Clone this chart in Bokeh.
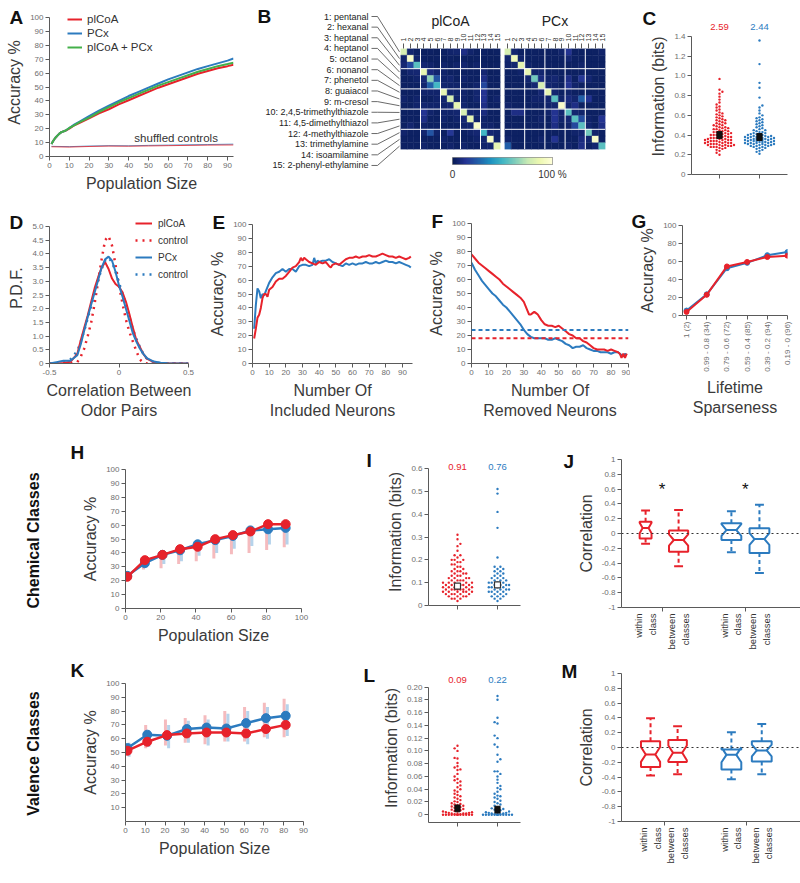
import math
import numpy as np
from bokeh.plotting import figure
from bokeh.layouts import row, column
from bokeh.models import (Range1d, FixedTicker, Legend, LegendItem, Span,
                          ColumnDataSource, LinearColorMapper)
from bokeh.transform import linear_cmap
from bokeh.embed import file_html
from bokeh.resources import INLINE
from bokeh.core.properties import value

FONT = "Liberation Sans"
RED = "#e7222b"; BLUE = "#2c7bbf"; GREEN = "#44b04a"
LRED = "#f19ea2"; LBLUE = "#97c1e3"
AXC = "#5a5a5a"; TKC = "#6e6e6e"; LBC = "#3a3a3a"
VERT = math.pi / 2

# ---------------- data ----------------
A_x = [1, 2, 3, 4, 5, 6, 8, 10, 12, 15, 20, 25, 30, 35, 40, 45, 50, 55, 60, 65, 70, 75, 80, 85, 90, 93]
A_plcoa = [9, 11.5, 13.5, 15, 16.5, 17.5, 18.5, 20, 22, 24, 27.5, 31, 34, 37.5, 40.5, 43.5, 46.5, 49.5, 52, 54.5, 57, 59.5, 61.5, 63.5, 65, 66]
A_pcx = [9, 11.5, 13.5, 15, 16.5, 17.5, 18.5, 20.5, 22.5, 25, 29, 33, 36.5, 40, 43.5, 46.5, 49.5, 52.5, 55.5, 58, 60.5, 63, 65, 67, 69, 70.5]
A_both = [9, 11.5, 13.5, 15, 16.5, 17.5, 18.5, 20.5, 22, 24.5, 28, 32, 35.5, 39, 42, 45, 48, 51, 53.5, 56, 58.5, 61, 63, 65, 66.5, 67.5]
A_shuf_x = [1, 10, 20, 30, 40, 50, 60, 70, 80, 93]
A_shuf_plcoa = [7, 6.8, 7.2, 7.5, 7.4, 7.6, 7.8, 8.0, 8.2, 8.3]
A_shuf_pcx = [7.3, 7.1, 7.5, 7.8, 7.7, 8.0, 8.2, 8.4, 8.6, 8.9]

B_odors = ["1: pentanal", "2: hexanal", "3: heptanal", "4: heptanol", "5: octanol", "6: nonanol",
           "7: phenetol", "8: guaiacol", "9: m-cresol", "10: 2,4,5-trimethylthiazole",
           "11: 4,5-dimethylthiazol", "12: 4-methylthiazole", "13: trimethylamine",
           "14: isoamilamine", "15: 2-phenyl-ethylamine"]
B_plcoa = [
    [80, 5, 3, 2, 3, 2, 3, 4, 5, 10, 4, 3, 3, 2, 3],
    [4, 95, 4, 3, 2, 3, 2, 3, 2, 3, 2, 3, 2, 2, 2],
    [6, 18, 55, 6, 4, 3, 4, 3, 4, 5, 3, 4, 3, 2, 3],
    [3, 5, 6, 85, 8, 5, 4, 3, 3, 3, 3, 3, 6, 2, 3],
    [3, 3, 4, 7, 65, 22, 4, 5, 3, 4, 3, 3, 10, 3, 3],
    [3, 3, 3, 5, 25, 50, 5, 4, 4, 3, 3, 4, 18, 3, 3],
    [3, 3, 3, 4, 4, 4, 85, 5, 4, 4, 3, 5, 12, 3, 3],
    [4, 3, 4, 3, 3, 4, 5, 80, 4, 4, 3, 5, 12, 3, 4],
    [3, 3, 4, 5, 4, 4, 4, 6, 85, 5, 3, 3, 10, 3, 3],
    [3, 3, 3, 12, 4, 3, 4, 4, 5, 80, 5, 4, 8, 3, 3],
    [3, 3, 3, 10, 3, 3, 4, 3, 4, 6, 85, 4, 4, 3, 3],
    [3, 5, 3, 4, 3, 3, 3, 3, 3, 4, 5, 95, 4, 4, 3],
    [4, 3, 3, 5, 22, 4, 3, 14, 3, 3, 4, 6, 50, 6, 4],
    [3, 3, 3, 3, 3, 3, 4, 3, 3, 3, 3, 4, 5, 95, 4],
    [3, 3, 3, 4, 3, 3, 3, 4, 3, 4, 3, 3, 4, 5, 85]]
B_pcx = [
    [80, 5, 3, 3, 3, 3, 3, 3, 4, 12, 3, 3, 3, 3, 4],
    [5, 90, 4, 3, 3, 3, 3, 3, 3, 6, 3, 3, 3, 3, 3],
    [4, 5, 85, 4, 3, 3, 3, 3, 3, 3, 3, 4, 3, 3, 3],
    [3, 3, 4, 85, 4, 5, 3, 3, 3, 3, 3, 3, 3, 3, 3],
    [3, 3, 3, 5, 60, 8, 4, 6, 3, 10, 3, 14, 6, 3, 3],
    [3, 3, 3, 3, 6, 80, 5, 4, 3, 12, 4, 3, 3, 3, 3],
    [3, 3, 3, 3, 3, 6, 85, 5, 3, 4, 3, 3, 3, 3, 3],
    [3, 3, 3, 3, 4, 4, 5, 55, 4, 8, 5, 25, 12, 3, 3],
    [4, 3, 3, 3, 3, 3, 4, 5, 95, 5, 10, 3, 3, 3, 3],
    [3, 10, 10, 3, 3, 3, 4, 12, 5, 55, 5, 4, 3, 3, 3],
    [3, 3, 3, 3, 3, 4, 3, 12, 4, 6, 55, 20, 4, 3, 12],
    [3, 3, 3, 3, 3, 3, 3, 10, 3, 4, 18, 55, 5, 3, 10],
    [3, 3, 3, 3, 3, 3, 3, 3, 3, 3, 4, 5, 60, 4, 3],
    [4, 3, 3, 3, 3, 4, 3, 12, 3, 3, 3, 8, 5, 95, 3],
    [25, 3, 3, 3, 3, 3, 3, 3, 3, 4, 3, 10, 3, 5, 55]]

C_plcoa = [0.20, 0.22, 0.24, 0.25, 0.26, 0.27, 0.27, 0.28, 0.28, 0.28, 0.29, 0.29, 0.29, 0.30, 0.30, 0.30, 0.30,
           0.31, 0.31, 0.31, 0.32, 0.32, 0.32, 0.32, 0.33, 0.33, 0.33, 0.34, 0.34, 0.34, 0.35, 0.35, 0.35, 0.35,
           0.36, 0.36, 0.36, 0.37, 0.37, 0.37, 0.38, 0.38, 0.38, 0.39, 0.39, 0.40, 0.40, 0.40, 0.41, 0.41, 0.42,
           0.42, 0.42, 0.43, 0.43, 0.44, 0.44, 0.45, 0.45, 0.46, 0.46, 0.47, 0.47, 0.48, 0.48, 0.49, 0.50, 0.50,
           0.51, 0.52, 0.52, 0.53, 0.54, 0.55, 0.55, 0.56, 0.57, 0.58, 0.59, 0.60, 0.61, 0.62, 0.63, 0.65, 0.66,
           0.68, 0.69, 0.71, 0.73, 0.76, 0.79, 0.82, 0.84, 0.86, 0.97]
C_pcx = [0.21, 0.23, 0.24, 0.25, 0.26, 0.27, 0.27, 0.28, 0.28, 0.29, 0.29, 0.29, 0.30, 0.30, 0.30, 0.31, 0.31,
         0.31, 0.31, 0.32, 0.32, 0.32, 0.32, 0.33, 0.33, 0.33, 0.33, 0.34, 0.34, 0.34, 0.34, 0.35, 0.35, 0.35,
         0.35, 0.35, 0.36, 0.36, 0.36, 0.36, 0.37, 0.37, 0.37, 0.37, 0.38, 0.38, 0.38, 0.38, 0.39, 0.39, 0.39,
         0.40, 0.40, 0.40, 0.41, 0.41, 0.42, 0.42, 0.43, 0.43, 0.44, 0.45, 0.45, 0.46, 0.47, 0.48, 0.49, 0.50,
         0.51, 0.52, 0.53, 0.54, 0.55, 0.56, 0.57, 0.58, 0.60, 0.62, 0.65, 0.68, 0.70, 0.78, 0.88, 0.93, 1.12, 1.36]
C_means = [0.40, 0.38]
C_totals = ["2.59", "2.44"]

D_x = [-0.5, -0.45, -0.4, -0.35, -0.3, -0.275, -0.25, -0.225, -0.2, -0.175, -0.15, -0.125, -0.1, -0.075, -0.05,
       -0.025, 0, 0.025, 0.05, 0.075, 0.1, 0.125, 0.15, 0.175, 0.2, 0.25, 0.3, 0.35, 0.4, 0.45, 0.5]
D_plcoa = [0, 0, 0.02, 0.06, 0.35, 0.85, 1.3, 1.75, 2.25, 2.75, 3.15, 3.5, 3.7, 3.45, 3.1, 2.9, 2.8, 2.6, 2.25,
           1.8, 1.3, 0.85, 0.6, 0.35, 0.18, 0.05, 0.01, 0, 0, 0, 0]
D_plcoa_ctrl = [0, 0, 0, 0, 0.05, 0.25, 0.55, 1.0, 1.5, 2.2, 3.0, 3.8, 4.5, 4.65, 4.3, 3.6, 2.85, 2.2, 1.6, 1.15,
                0.8, 0.45, 0.15, 0.03, 0, 0, 0, 0, 0, 0, 0]
D_pcx = [0, 0.05, 0.1, 0.1, 0.3, 0.7, 1.2, 1.7, 2.15, 2.6, 3.05, 3.5, 3.8, 3.9, 3.75, 3.35, 2.85, 2.45, 2.0, 1.55,
         1.1, 0.8, 0.55, 0.35, 0.2, 0.07, 0.03, 0.01, 0, 0, 0]
D_pcx_ctrl = [0, 0, 0.05, 0.15, 0.45, 0.8, 1.2, 1.65, 2.1, 2.6, 3.05, 3.45, 3.75, 3.85, 3.7, 3.35, 2.95, 2.55,
              2.15, 1.7, 1.25, 0.9, 0.6, 0.35, 0.18, 0.05, 0.01, 0, 0, 0, 0]

E_plcoa_x = [1, 2, 3, 4, 5, 6, 7, 8, 9, 10, 12, 14, 16, 18, 20, 22, 24, 26, 28, 29, 30, 31, 32, 34, 36, 38, 40, 42,
             44, 46, 47, 48, 50, 52, 54, 56, 58, 60, 62, 64, 66, 68, 70, 72, 74, 76, 78, 80, 82, 84, 86, 88, 90,
             92, 94, 95]
E_plcoa = [18, 25, 33, 35, 40, 47, 50, 50, 48, 53, 55, 59, 61, 61, 63, 66, 69, 70, 73, 76, 74, 76, 75, 73, 72, 71,
           73, 72, 73, 70, 69, 71, 72, 71, 73, 75, 76, 76, 77, 76, 77, 77, 78, 77, 77, 78, 79, 78, 77, 77, 76, 77,
           76, 75, 76, 77]
E_pcx_x = [1, 2, 3, 4, 5, 6, 7, 8, 10, 12, 14, 16, 18, 20, 22, 24, 26, 28, 30, 32, 34, 36, 37, 38, 39, 40, 42, 44,
           46, 48, 50, 52, 54, 56, 58, 60, 62, 64, 66, 68, 70, 72, 74, 76, 78, 80, 82, 84, 86, 88, 90, 92, 94, 95]
E_pcx = [25, 42, 54, 52, 47, 50, 49, 52, 58, 62, 65, 66, 68, 66, 68, 68, 66, 70, 71, 71, 70, 71, 76, 72, 74, 73, 74,
         74, 75, 73, 72, 71, 70, 72, 71, 72, 71, 72, 72, 73, 72, 72, 73, 72, 73, 74, 73, 73, 72, 73, 72, 71, 70, 69]

F_plcoa_x = [0, 2, 4, 6, 8, 10, 12, 14, 16, 18, 20, 22, 24, 26, 28, 30, 31, 32, 33, 34, 35, 36, 37, 38, 40, 42, 44,
             46, 48, 50, 52, 54, 56, 58, 60, 62, 64, 66, 68, 70, 72, 74, 76, 78, 80, 82, 84, 85, 86, 87, 88, 89]
F_plcoa = [78, 75, 72, 70, 68, 66, 64, 62, 60, 57, 55, 53, 51, 49, 47, 44, 41, 38, 35, 35, 36, 37, 36, 35, 31, 28,
           27, 27, 26, 27, 25, 23, 21, 20, 18, 18, 16, 15, 13, 11, 10, 10, 10, 9, 10, 9, 8, 7, 4, 7, 4, 7]
F_pcx_x = [0, 2, 4, 6, 8, 10, 12, 14, 16, 18, 20, 22, 24, 26, 28, 30, 32, 34, 36, 38, 40, 42, 44, 46, 48, 50, 52,
           54, 56, 58, 60, 62, 64, 66, 68, 70, 72, 74, 76, 78, 80, 82, 84, 86, 87, 88, 89]
F_pcx = [72, 67, 63, 59, 56, 53, 50, 48, 45, 42, 40, 37, 34, 31, 28, 24, 21, 19, 18, 18, 18, 18, 17, 17, 18, 17, 16,
         14, 13, 11, 12, 12, 13, 11, 10, 9, 9, 8, 8, 8, 7, 8, 8, 6, 5, 7, 6]
F_chance_pcx = 24
F_chance_plcoa = 18

G_labels = ["1 (2)", "0.99 - 0.8 (34)", "0.79 - 0.6 (72)", "0.59 - 0.4 (85)", "0.39 - 0.2 (94)", "0.19 - 0 (96)"]
G_pcx = [5.5, 23.5, 52.5, 58.5, 67, 70.5]
G_plcoa = [4, 23, 54.5, 59.5, 65, 66.5]

H_x = [1, 11, 21, 31, 41, 51, 61, 71, 81, 91]
H_plcoa = [22.8, 34.8, 38.6, 42.7, 44.4, 49.9, 52.8, 55.4, 60.7, 60.7]
H_pcx = [23.5, 32.6, 38.6, 41.9, 46.2, 49.2, 52.2, 56.2, 57.0, 58.0]
H_plcoa_lo = [21, 28, 29, 32, 34, 36, 39, 40, 42, 44]
H_plcoa_hi = [24, 36, 40, 43, 48, 52, 56, 58, 63, 63]
H_pcx_lo = [21, 30, 32, 34, 38, 40, 43, 45, 46, 46]
H_pcx_hi = [25, 35, 40, 43, 48, 52, 55, 58, 59, 60]

I_plcoa = [0.02, 0.03, 0.03, 0.03, 0.04, 0.04, 0.04, 0.04, 0.05, 0.05, 0.05, 0.05, 0.05, 0.06, 0.06, 0.06, 0.06,
           0.06, 0.06, 0.07, 0.07, 0.07, 0.07, 0.07, 0.07, 0.07, 0.08, 0.08, 0.08, 0.08, 0.08, 0.08, 0.09, 0.09,
           0.09, 0.09, 0.09, 0.09, 0.10, 0.10, 0.10, 0.10, 0.10, 0.11, 0.11, 0.11, 0.11, 0.12, 0.12, 0.12, 0.12,
           0.13, 0.13, 0.13, 0.14, 0.14, 0.14, 0.15, 0.15, 0.15, 0.16, 0.16, 0.17, 0.17, 0.18, 0.18, 0.19, 0.19,
           0.20, 0.20, 0.20, 0.21, 0.22, 0.22, 0.24, 0.26, 0.27, 0.29, 0.31]
I_pcx = [0.02, 0.03, 0.03, 0.04, 0.04, 0.04, 0.05, 0.05, 0.05, 0.06, 0.06, 0.06, 0.06, 0.07, 0.07, 0.07, 0.07, 0.08,
         0.08, 0.08, 0.08, 0.09, 0.09, 0.09, 0.09, 0.10, 0.10, 0.10, 0.10, 0.11, 0.11, 0.11, 0.12, 0.12, 0.12, 0.13,
         0.13, 0.14, 0.14, 0.15, 0.15, 0.16, 0.16, 0.17, 0.17, 0.21, 0.34, 0.41, 0.49, 0.51]
I_means = [0.085, 0.09]
I_totals = ["0.91", "0.76"]

BOX_names = ["within\nclass", "between\nclasses", "within\nclass", "between\nclasses"]
J_q1 = [-0.066, -0.246, -0.088, -0.264]
J_med = [0.075, -0.088, 0.047, -0.075]
J_q3 = [0.16, 0.04, 0.138, 0.07]
J_lo = [-0.14, -0.444, -0.255, -0.535]
J_hi = [0.31, 0.318, 0.30, 0.39]
J_notch = [0.07, 0.075, 0.08, 0.08]

K_x = [1, 11, 21, 31, 41, 51, 61, 71, 81]
K_plcoa = [51.3, 57.8, 62.6, 63.8, 64.5, 64.5, 63.8, 67.0, 70.0]
K_pcx = [53.2, 62.9, 62.1, 67.0, 68.1, 67.4, 71.3, 74.9, 76.6]
K_plcoa_lo = [48, 53, 55, 57, 56, 58, 58, 61, 61]
K_plcoa_hi = [56, 70, 74, 75, 77, 80, 83, 86, 89]
K_pcx_lo = [47, 54, 53, 57, 55, 58, 56, 60, 62]
K_pcx_hi = [57, 66, 70, 73, 74, 78, 80, 83, 85]

L_plcoa = [0, 0, 0, 0, 0, 0, 0, 0, 0, 0, 0, 0, 0, 0.001, 0.001, 0.001, 0.002, 0.002, 0.002, 0.003, 0.003, 0.004,
           0.004, 0.005, 0.005, 0.006, 0.007, 0.008, 0.009, 0.010, 0.011, 0.012, 0.013, 0.014, 0.015, 0.016, 0.017,
           0.018, 0.020, 0.021, 0.023, 0.025, 0.027, 0.029, 0.031, 0.033, 0.036, 0.038, 0.040, 0.043, 0.046, 0.050,
           0.052, 0.054, 0.056, 0.060, 0.064, 0.070, 0.071, 0.074, 0.076, 0.081, 0.088, 0.089, 0.100, 0.104, 0.108]
L_pcx = [0, 0, 0, 0, 0, 0, 0, 0, 0, 0, 0, 0, 0, 0, 0.001, 0.001, 0.001, 0.002, 0.002, 0.003, 0.003, 0.004, 0.005,
         0.006, 0.007, 0.008, 0.009, 0.010, 0.012, 0.014, 0.016, 0.018, 0.020, 0.022, 0.025, 0.027, 0.029, 0.030,
         0.033, 0.036, 0.040, 0.042, 0.045, 0.050, 0.055, 0.060, 0.064, 0.068, 0.068, 0.083, 0.087, 0.094, 0.106,
         0.110, 0.120, 0.124, 0.143, 0.145, 0.152, 0.180, 0.186]
L_means = [0.010, 0.008]
L_totals = ["0.09", "0.22"]

M_q1 = [-0.265, -0.197, -0.296, -0.188]
M_med = [-0.094, -0.072, -0.099, -0.04]
M_q3 = [0.085, 0.103, -0.027, 0.085]
M_lo = [-0.377, -0.363, -0.43, -0.363]
M_hi = [0.395, 0.287, 0.206, 0.318]
M_notch = [0.1, 0.1, 0.1, 0.08]

# ---------------- helpers ----------------
def mkfig(x0, y0, w, h, fl, fr, ft, fb, xr, yr, xloc="below", yloc="left", title=None):
    kw = {}
    if title is not None:
        kw["title"] = title
    p = figure(width=w, height=h, x_range=Range1d(*xr), y_range=Range1d(*yr),
               output_backend="svg", toolbar_location=None,
               min_border_left=fl - x0, min_border_right=x0 + w - fr,
               min_border_top=ft - y0, min_border_bottom=y0 + h - fb,
               x_axis_location=xloc, y_axis_location=yloc, **kw)
    p.outline_line_color = None
    p.grid.visible = False
    p.background_fill_color = "white"
    p.border_fill_color = "white"
    return p, (fl, fr, ft, fb)


def textfig(x0, y0, w, h):
    p = figure(width=w, height=h, x_range=Range1d(x0, x0 + w), y_range=Range1d(y0 + h, y0),
               output_backend="svg", toolbar_location=None, x_axis_location=None, y_axis_location=None,
               min_border=0)
    p.outline_line_color = None
    p.grid.visible = False
    return p


def style(ax, ticks, labels, title=None, fs="8px", out=4, orient="horizontal", line=True, lcolor=TKC):
    ax.ticker = FixedTicker(ticks=list(ticks), minor_ticks=[])
    ax.major_label_overrides = {t: l for t, l in zip(ticks, labels)}
    ax.axis_line_color = AXC if line else None
    ax.axis_line_width = 1
    ax.major_tick_line_color = AXC if out > 0 else None
    ax.major_tick_out = out
    ax.major_tick_in = 0
    ax.minor_tick_line_color = None
    ax.major_label_text_font = FONT
    ax.major_label_text_font_size = fs
    ax.major_label_text_color = lcolor
    ax.major_label_standoff = 2
    ax.major_label_orientation = orient
    ax.axis_label_text_font = FONT
    ax.axis_label_text_font_size = "16px"
    ax.axis_label_text_font_style = "normal"
    ax.axis_label_text_color = LBC
    ax.axis_label_standoff = 4
    if title is not None:
        ax.axis_label = title


def letter(p, fr, left, center, t):
    """Panel letter drawn as the figure's title, shifted left of / down to the frame corner."""
    fl, frr, ft, fb = fr
    s = 2 * (ft - 10.8 - center)
    n = 0
    while 2 + 22.8 * (n + 1) + s < 0:
        n += 1
    p.title.text = "\n" * n + t
    p.title.align = "left"
    p.title.vertical_align = "bottom"
    p.title.offset = left - fl
    p.title.standoff = s
    p.title.text_font = FONT
    p.title.text_font_size = "19px"
    p.title.text_font_style = "bold"
    p.title.text_color = "#111"


def swarm(vals, ppu_y, ppu_x, step=2.9, maxw=17.0):
    n = len(vals)
    order = sorted(range(n), key=lambda i: vals[i])
    placed = []
    off = [0.0] * n
    for j, i in enumerate(order):
        sgn = 1 if j % 2 == 0 else -1
        cands = [0.0]
        k = 1
        while k * step <= maxw:
            cands += [sgn * k * step, -sgn * k * step]
            k += 1
        yp = vals[i] * ppu_y
        near = [(px, py) for px, py in placed if abs(py - yp) < step]
        best, bestd = 0.0, -1.0
        for c in cands:
            d = min((math.hypot(c - px, yp - py) for px, py in near), default=1e9)
            if d >= step * 0.95:
                best = c
                break
            if d > bestd:
                best, bestd = c, d
        placed.append((best, yp))
        off[i] = best / ppu_x
    return off


def hex2rgb(h):
    return tuple(int(h[i:i + 2], 16) for i in (1, 3, 5))


def make_palette(base, n):
    rgb = [hex2rgb(c) for c in base]
    out = []
    for k in range(n):
        t = k / (n - 1) * (len(rgb) - 1)
        i = min(int(t), len(rgb) - 2)
        f = t - i
        c = [round(rgb[i][m] + (rgb[i + 1][m] - rgb[i][m]) * f) for m in range(3)]
        out.append("#%02x%02x%02x" % tuple(c))
    return out


PAL = make_palette(['#081d58', '#253494', '#225ea8', '#1d91c0', '#41b6c4', '#7fcdbb', '#c7e9b4', '#edf8b1',
                    '#ffffd9'], 128)

Y100 = [0, 10, 20, 30, 40, 50, 60, 70, 80, 90, 100]
Y100L = [str(v) for v in Y100]
CORR_T = [-1, -0.8, -0.6, -0.4, -0.2, 0, 0.2, 0.4, 0.6, 0.8, 1]
CORR_L = ["-1", "-0.8", "-0.6", "-0.4", "-0.2", "0", "0.2", "0.4", "0.6", "0.8", "1"]

# ---------------- A ----------------
pA, fA = mkfig(0, 0, 245, 196, 49, 233, 8, 156, (0, 93), (0, 100 + 9 / 1.39))
style(pA.yaxis[0], Y100, Y100L, "Accuracy %")
pA.yaxis[0].bounds = (0, 100)
style(pA.xaxis[0], [0, 10, 20, 30, 40, 50, 60, 70, 80, 90], [str(v) for v in range(0, 100, 10)], "Population Size")
pA.line(A_shuf_x, A_shuf_pcx, color=BLUE, line_width=1, alpha=0.8)
pA.line(A_shuf_x, A_shuf_plcoa, color=RED, line_width=1, alpha=0.8)
rAr = pA.line(A_x, A_plcoa, color=RED, line_width=2)
rAb = pA.line(A_x, A_pcx, color=BLUE, line_width=2)
rAg = pA.line(A_x, A_both, color=GREEN, line_width=2)
legA = Legend(items=[LegendItem(label="plCoA", renderers=[rAr]), LegendItem(label="PCx", renderers=[rAb]),
                     LegendItem(label="plCoA + PCx", renderers=[rAg])],
              location=(18, 103), label_text_font=FONT, label_text_font_size="11.5px", label_text_color="#333",
              glyph_width=15, glyph_height=12, label_height=12, spacing=2, padding=0, margin=0,
              border_line_color=None, background_fill_alpha=0, label_standoff=5)
pA.add_layout(legA)
pA.text(x=[64], y=[13.5], text=["shuffled controls"], text_font=value(FONT), text_font_size="11.5px",
        text_align="center", text_baseline="middle", text_color="#333")
letter(pA, fA, 9, 16.5, "A")

# ---------------- B ----------------
pBl = textfig(245, 0, 155, 196)
lab_y = [16 + i * 10.64 for i in range(len(B_odors))]
row_y = [48 + (i + 0.5) * 101 / 15 for i in range(len(B_odors))]
pBl.multi_line(xs=[[371, 377, 399] for _ in B_odors], ys=[[a, a, b] for a, b in zip(lab_y, row_y)],
               line_color="#444", line_width=0.8)
pBl.text(x=[368] * len(B_odors), y=lab_y, text=B_odors, text_font=value(FONT), text_font_size="9px",
         text_align="right", text_baseline="middle", text_color="#222")
pBl.text(x=[257], y=[16], text=["B"], text_font=value(FONT), text_font_size="19px", text_font_style="bold",
         text_align="left", text_baseline="middle", text_color="#111")


def matfig(x0, w, fl, fr, mat, title):
    p, f = mkfig(x0, 0, w, 150, fl, fr, 48, 149, (0.5, 15.5), (15.5, 0.5), xloc="above", yloc=None, title=title)
    xs, ys, vs = [], [], []
    for r in range(15):
        for c in range(15):
            xs.append(c + 1); ys.append(r + 1); vs.append(mat[r][c])
    src = ColumnDataSource(dict(x=xs, y=ys, v=vs))
    cm = linear_cmap('v', PAL, 0, 100)
    p.rect(x='x', y='y', width=1, height=1, source=src, fill_color=cm, line_color=cm, line_width=0.4)
    for b in [3.5, 6.5, 9.5, 12.5]:
        p.add_layout(Span(location=b, dimension='height', line_color='white', line_width=1))
        p.add_layout(Span(location=b, dimension='width', line_color='white', line_width=1))
    style(p.xaxis[0], list(range(1, 16)), [str(i) for i in range(1, 16)], fs="7px", out=5, orient=VERT,
          line=False, lcolor="#333")
    p.title.align = "center"
    p.title.text_font = FONT
    p.title.text_font_size = "14px"
    p.title.text_font_style = "normal"
    p.title.text_color = "#222"
    p.title.standoff = 4
    return p


pBp = matfig(400, 102, 400, 500, B_plcoa, "plCoA")
pBx = matfig(502, 123, 504, 605, B_pcx, "PCx")
pCb, fCb = mkfig(400, 150, 225, 46, 452, 552, 157, 164, (0, 100), (0, 1), yloc=None)
pCb.image(image=[np.array([np.linspace(0, 100, 200)])], x=0, y=0, dw=100, dh=1,
          color_mapper=LinearColorMapper(palette=PAL, low=0, high=100))
pCb.outline_line_color = "#444"
pCb.outline_line_width = 0.6
style(pCb.xaxis[0], [0, 100], ["0", "100 %"], fs="10px", out=0, line=False, lcolor="#333")
pCb.xaxis[0].major_label_standoff = 4


# ---------------- info panels (C, I, L) ----------------
def info_panel(x0, y0, w, h, fl, fr, ft, fb, ytop_tick, ppu_y, ybot, yticks, ylabels, v1, v2, means, totals,
               mean_style, tot_y, let_pos, let):
    top_px = fb - (ytop_tick - ybot) * ppu_y        # pixel row of the top tick
    yr = (ybot, ytop_tick + (top_px - ft) / ppu_y)
    xr = (-0.725, 1.575) if fr - fl < 96 else (-0.7, 1.7)
    p, f = mkfig(x0, y0, w, h, fl, fr, ft, fb, xr, yr)
    style(p.yaxis[0], yticks, ylabels, "Information (bits)")
    p.yaxis[0].bounds = (ybot, ytop_tick)
    style(p.xaxis[0], [0, 1], ["", ""])
    o1 = swarm(v1, ppu_y, 40)
    o2 = swarm(v2, ppu_y, 40)
    p.scatter([0 + o for o in o1], v1, size=2.4, color=RED, line_width=0)
    p.scatter([1 + o for o in o2], v2, size=2.4, color=BLUE, line_width=0)
    if mean_style == "open":
        p.scatter([0, 1], means, marker="square", size=6, fill_color="white", line_color="#333", line_width=1.2)
    else:
        p.rect([0, 1], means, width=0.13, height=7 / ppu_y, fill_color="#111", line_color="#111")
    ty = ytop_tick + (top_px - tot_y) / ppu_y
    p.text(x=[0, 1], y=[ty, ty], text=totals, text_color=[RED, BLUE], text_font=value(FONT),
           text_font_size="9.5px", text_align="center", text_baseline="middle")
    letter(p, f, let_pos[0], let_pos[1], let)
    return p


C_t = [0, 0.2, 0.4, 0.6, 0.8, 1.0, 1.2, 1.4]
C_l = ["0", "0.2", "0.4", "0.6", "0.8", "1.0", "1.2", "1.4"]
pC = info_panel(625, 0, 175, 196, 691, 787, 18, 174, 1.4, 138 / 1.4, 0, C_t, C_l, C_plcoa, C_pcx, C_means,
                C_totals, "filled", 26, (642, 18), "C")

# ---------------- D ----------------
pD, fD = mkfig(0, 196, 200, 236, 49, 188, 212, 363, (-0.5, 0.5), (0, 5 + 14 / 27.4))
D_t = [0, 0.5, 1, 1.5, 2, 2.5, 3, 3.5, 4, 4.5, 5]
style(pD.yaxis[0], D_t, ["0", "0.5", "1.0", "1.5", "2.0", "2.5", "3.0", "3.5", "4.0", "4.5", "5.0"], "P.D.F.")
pD.yaxis[0].bounds = (0, 5)
style(pD.xaxis[0], [-0.5, 0, 0.5], ["-0.5", "0", "0.5"], "Correlation Between\nOdor Pairs")
rd2 = pD.line(D_x, D_plcoa_ctrl, color=RED, line_width=2.5, line_dash="2 5")
rd4 = pD.line(D_x, D_pcx_ctrl, color=BLUE, line_width=2.5, line_dash="2 5")
rd1 = pD.line(D_x, D_plcoa, color=RED, line_width=2)
rd3 = pD.line(D_x, D_pcx, color=BLUE, line_width=2)
legD = Legend(items=[LegendItem(label="plCoA", renderers=[rd1]), LegendItem(label="control", renderers=[rd2]),
                     LegendItem(label="PCx", renderers=[rd3]), LegendItem(label="control", renderers=[rd4])],
              location=(86, 82), label_text_font=FONT, label_text_font_size="10px", label_text_color="#333",
              glyph_width=17, glyph_height=14, label_height=14, spacing=3, padding=0, margin=0,
              border_line_color=None, background_fill_alpha=0, label_standoff=6)
pD.add_layout(legD)
letter(pD, fD, 9, 222, "D")

# ---------------- E ----------------
pE, fE = mkfig(200, 196, 225, 236, 252, 412, 224, 363, (0, 96), (0, 100))
style(pE.yaxis[0], Y100, Y100L, "Accuracy %")
style(pE.xaxis[0], list(range(0, 100, 10)), [str(v) for v in range(0, 100, 10)], "Number Of\nIncluded Neurons")
pE.line(E_pcx_x, E_pcx, color=BLUE, line_width=2)
pE.line(E_plcoa_x, E_plcoa, color=RED, line_width=2)
letter(pE, fE, 212, 222, "E")

# ---------------- F ----------------
pF, fF = mkfig(425, 196, 205, 236, 467, 628, 223, 363, (0, 90), (0, 100))
style(pF.yaxis[0], Y100, Y100L, "Accuracy %")
style(pF.xaxis[0], list(range(0, 100, 10)), [str(v) for v in range(0, 100, 10)], "Number Of\nRemoved Neurons")
pF.add_layout(Span(location=F_chance_pcx, dimension='width', line_color=BLUE, line_width=2, line_dash="4 3"))
pF.add_layout(Span(location=F_chance_plcoa, dimension='width', line_color=RED, line_width=2, line_dash="4 3"))
pF.line(F_pcx_x, F_pcx, color=BLUE, line_width=2)
pF.line(F_plcoa_x, F_plcoa, color=RED, line_width=2)
letter(pF, fF, 427, 221, "F")

# ---------------- G ----------------
pG, fG = mkfig(630, 196, 170, 236, 682, 787, 225, 315, (0.8, 6.0), (0, 100))
G_pos = [1, 2, 3, 4, 5, 6]
style(pG.yaxis[0], [0, 20, 40, 60, 80, 100], ["0", "20", "40", "60", "80", "100"], "Accuracy %")
style(pG.xaxis[0], G_pos, G_labels, "Lifetime\nSparseness", orient=VERT)
pG.line(G_pos, G_pcx, color=BLUE, line_width=2)
pG.scatter(G_pos, G_pcx, size=5, color=BLUE)
pG.line(G_pos, G_plcoa, color=RED, line_width=2)
pG.scatter(G_pos, G_plcoa, size=5, color=RED)
letter(pG, fG, 631, 221, "G")


# ---------------- H / K ----------------
def pop_panel(y0, h, fr_r, ft, fb, xr, xt, yt, xs, red, blue, rlo, rhi, blo, bhi, rowlab, row_cy, let_pos, let):
    lab = textfig(0, y0, 60, h)
    lab.text(x=[33], y=[row_cy], text=[rowlab], angle=VERT, text_font=value(FONT), text_font_size="16px",
             text_font_style="bold", text_align="center", text_baseline="middle", text_color="#111")
    p, f = mkfig(60, y0, 295, h, 125, fr_r, ft, fb, xr, (0, 100))
    style(p.yaxis[0], yt, [str(v) for v in yt], "Accuracy %")
    style(p.xaxis[0], xt, [str(v) for v in xt], "Population Size")
    p.segment(x0=[x - 0.8 for x in xs], y0=rlo, x1=[x - 0.8 for x in xs], y1=rhi, color=LRED, line_width=3,
              alpha=0.7)
    p.segment(x0=[x + 0.8 for x in xs], y0=blo, x1=[x + 0.8 for x in xs], y1=bhi, color=LBLUE, line_width=3,
              alpha=0.7)
    p.line(xs, blue, color=BLUE, line_width=2.5)
    p.scatter(xs, blue, size=9, color=BLUE)
    p.line(xs, red, color=RED, line_width=2.5)
    p.scatter(xs, red, size=9, color=RED)
    letter(p, f, let_pos[0], let_pos[1], let)
    return row(column(lab), column(p), spacing=0)


pH = pop_panel(432, 223, 301, 469, 608, (0, 100), [0, 20, 40, 60, 80, 100], Y100, H_x, H_plcoa, H_pcx,
               H_plcoa_lo, H_plcoa_hi, H_pcx_lo, H_pcx_hi, "Chemical Classes", 540, (70, 452), "H")
pK = pop_panel(655, 225, 303, 683, 821, (0, 90), list(range(0, 100, 10)), Y100[1:], K_x, K_plcoa, K_pcx,
               K_plcoa_lo, K_plcoa_hi, K_pcx_lo, K_pcx_hi, "Valence Classes", 753, (70, 670), "K")

# ---------------- I / L ----------------
I_t = [0, 0.1, 0.2, 0.3, 0.4, 0.5, 0.6]
I_l = ["0", "0.1", "0.2", "0.3", "0.4", "0.5", "0.6"]
pI = info_panel(355, 432, 205, 223, 428, 520, 458, 605, 0.6, 137 / 0.6, 0, I_t, I_l, I_plcoa, I_pcx, I_means,
                I_totals, "open", 466, (366, 460), "I")
L_t = [0, 0.02, 0.04, 0.06, 0.08, 0.1, 0.12, 0.14, 0.16, 0.18, 0.2]
L_l = ["0", "0.02", "0.04", "0.06", "0.08", "0.10", "0.12", "0.14", "0.16", "0.18", "0.20"]
pL = info_panel(355, 655, 205, 225, 428, 520, 668, 822, 0.2, 660, -8 / 660, L_t, L_l, L_plcoa, L_pcx, L_means,
                L_totals, "filled", 675, (363, 670), "L")


# ---------------- J / M ----------------
def box_panel(y0, h, ft, fb, pos, widths, q1, med, q3, lo, hi, notch, stars, let_pos, let):
    p, f = mkfig(560, y0, 240, h, 621, 800, ft, fb, (0.27, 0.27 + 179 / 33), (-1, 1))
    style(p.yaxis[0], CORR_T, CORR_L, "Correlation")
    mids = [(pos[0] + pos[1]) / 2, (pos[2] + pos[3]) / 2]
    ax = p.xaxis[0]
    style(ax, pos, BOX_names, fs="9.5px", out=0, orient=VERT, lcolor="#333")
    ax.ticker = FixedTicker(ticks=list(pos), minor_ticks=mids)
    ax.minor_tick_line_color = AXC
    ax.minor_tick_out = 4
    ax.minor_tick_in = 0
    p.add_layout(Span(location=0, dimension='width', line_color="#333", line_width=1.2, line_dash="2 3"))
    cols = [RED, RED, BLUE, BLUE]
    cap = 0.27
    for i in range(4):
        x, w, c = pos[i], widths[i], cols[i]
        nl, nh = med[i] - notch[i], med[i] + notch[i]
        bx = [x - w / 2, x - w / 2, x - w / 4, x - w / 2, x - w / 2, x + w / 2, x + w / 2, x + w / 4, x + w / 2,
              x + w / 2]
        by = [q1[i], nl, med[i], nh, q3[i], q3[i], nh, med[i], nl, q1[i]]
        p.patch(bx, by, fill_color=None, line_color=c, line_width=2)
        p.segment(x0=[x - w / 4], y0=[med[i]], x1=[x + w / 4], y1=[med[i]], color=c, line_width=2)
        p.segment(x0=[x, x], y0=[q3[i], q1[i]], x1=[x, x], y1=[hi[i], lo[i]], color=c, line_width=2,
                  line_dash="4 3")
        p.segment(x0=[x - cap / 2, x - cap / 2], y0=[hi[i], lo[i]], x1=[x + cap / 2, x + cap / 2],
                  y1=[hi[i], lo[i]], color=c, line_width=2)
    if stars:
        p.text(x=mids, y=[0.6, 0.6], text=["*", "*"], text_font=value(FONT), text_font_size="17px",
               text_align="center", text_baseline="middle", text_color="#111")
    letter(p, f, let_pos[0], let_pos[1], let)
    return p


J_pos = [1, 2, 3.6, 4.45]
J_w = [0.36, 0.58, 0.6, 0.6]
pJ = box_panel(432, 223, 459, 607, J_pos, J_w, J_q1, J_med, J_q3, J_lo, J_hi, J_notch, True, (563, 461), "J")
M_pos = [1.15, 1.97, 3.6, 4.52]
M_w = [0.58, 0.56, 0.6, 0.6]
pM = box_panel(655, 225, 673, 821, M_pos, M_w, M_q1, M_med, M_q3, M_lo, M_hi, M_notch, False, (561, 671), "M")

# ---------------- layout ----------------
C = lambda *a: column(*a, spacing=0)
r1 = row(C(pA), C(pBl), C(row(pBp, pBx, spacing=0), pCb), C(pC), spacing=0)
r2 = row(C(pD), C(pE), C(pF), C(pG), spacing=0)
r3 = row(C(pH), C(pI), C(pJ), spacing=0)
r4 = row(C(pK), C(pL), C(pM), spacing=0)
layout = column(r1, r2, r3, r4, spacing=0)
open("out.html", "w").write(file_html(layout, INLINE, "figure"))
